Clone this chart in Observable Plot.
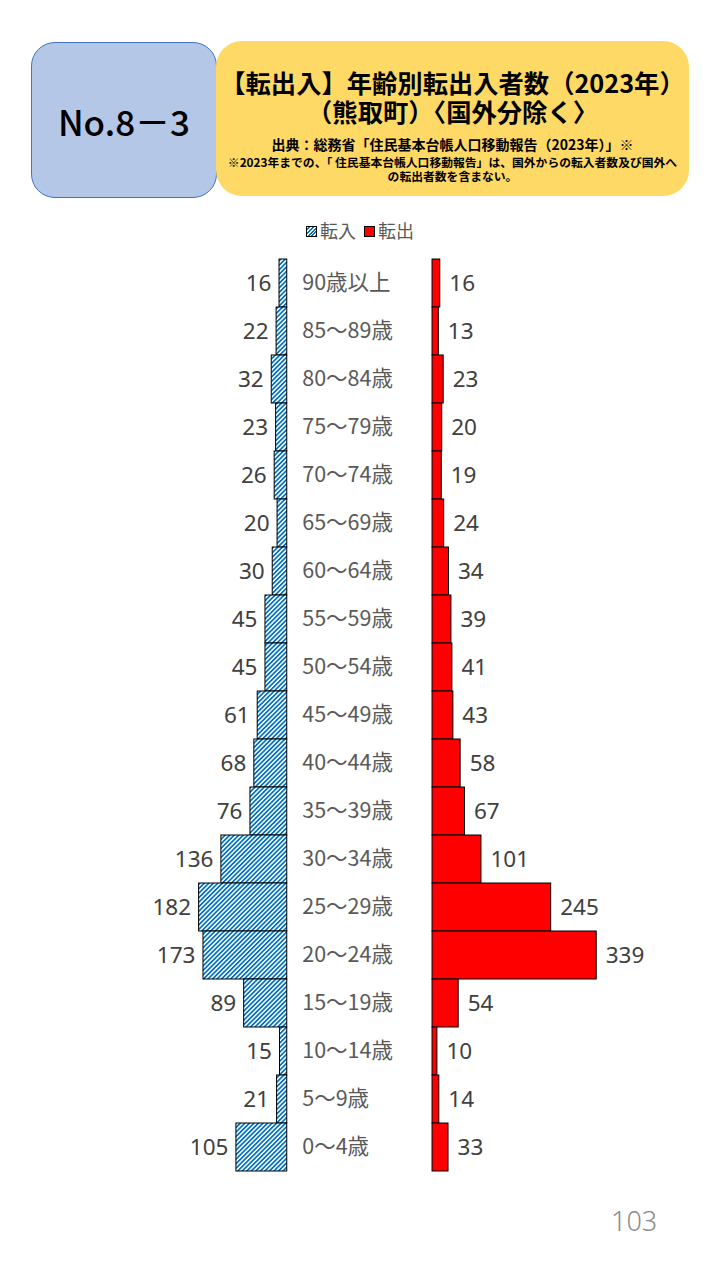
<!DOCTYPE html>
<html><head><meta charset="utf-8">
<script src="https://cdn.jsdelivr.net/npm/d3@7"></script>
<script src="https://cdn.jsdelivr.net/npm/@observablehq/plot@0.6"></script>
<style>
body{margin:0;background:#fff;font-family:"Noto Sans CJK JP","Noto Sans",sans-serif;}
#page{position:relative;width:720px;height:1280px;overflow:hidden;}
.abs{position:absolute;}
#nobox{left:31px;top:42px;width:184px;height:154px;background:#B4C7E7;border:1px solid #4472C4;border-radius:24px;display:flex;align-items:center;justify-content:center;font-size:35px;font-weight:500;color:#000;}
#ybox{left:216px;top:41px;width:473px;height:155px;background:#FFD966;border-radius:26px;}
.t{position:absolute;left:216px;width:473px;text-align:center;color:#000;white-space:pre;}
#legend{left:0;top:217px;width:720px;text-align:center;font-size:18px;line-height:26px;color:#595959;}
#legend span.sw{display:inline-block;width:9px;height:9px;border:1px solid #000;vertical-align:middle;margin:0 3px 0 0;position:relative;top:-2px;}
#chart{left:0;top:240px;}
#pnum{left:611px;top:1203px;font-size:27px;font-weight:300;line-height:36px;color:#8c8c8c;font-family:"Noto Sans","Noto Sans CJK JP",sans-serif;}
</style></head>
<body><div id="page">
<div id="nobox" class="abs">No.8－3</div>
<div id="ybox" class="abs"></div>
<div class="t" id="title" style="top:67.5px;font-size:25.3px;font-weight:700;line-height:29px;"></div>
<div class="t" style="top:135.5px;font-size:14px;font-weight:700;line-height:16px;">出典：総務省「住民基本台帳人口移動報告（2023年）」※</div>
<div class="t" id="note" style="top:154.8px;font-size:11.8px;font-weight:700;line-height:14.5px;"></div>
<div id="legend" class="abs"><span class="sw" style="background:repeating-linear-gradient(135deg,#fff 0 1.2px,#0070C0 1.2px 2.6px);"></span>転入&nbsp;&nbsp;<span class="sw" style="background:#FF0000;"></span>転出</div>
<div id="chart" class="abs"></div>
<div id="pnum" class="abs">103</div>
</div>
<script>
const ages = ["90歳以上","85～89歳","80～84歳","75～79歳","70～74歳","65～69歳","60～64歳","55～59歳","50～54歳","45～49歳","40～44歳","35～39歳","30～34歳","25～29歳","20～24歳","15～19歳","10～14歳","5～9歳","0～4歳"];
const inflow = [16,22,32,23,26,20,30,45,45,61,68,76,136,182,173,89,15,21,105];
const outflow = [16,13,23,20,19,24,34,39,41,43,58,67,101,245,339,54,10,14,33];
const G = 150; // half gap (data units) for center labels
const rows = ages.map((a,i)=>({age:a, inn:inflow[i], out:outflow[i]}));

document.getElementById("title").textContent = "【転出入】年齢別転出入者数（2023年）\n（熊取町）〈国外分除く〉";
document.getElementById("note").textContent = "※2023年までの、「 住民基本台帳人口移動報告」は、国外からの転入者数及び国外へ\nの転出者数を含まない。";

const svg = Plot.plot({
  width:720, height:950,
  marginLeft:0, marginRight:0, marginTop:18, marginBottom:19,
  x:{domain:[-742.1,744.6], axis:null},
  y:{domain:ages, padding:0, axis:null},
  marks:[
    Plot.barX(rows,{y:"age", x1:d=>-G-d.inn, x2:()=>-G, fill:"url(#hatchBlue)", stroke:"#000", strokeWidth:1, inset:0}),
    Plot.barX(rows,{y:"age", x1:()=>G, x2:d=>G+d.out, fill:"#FF0000", stroke:"#000", strokeWidth:1, inset:0}),
    Plot.text(rows,{y:"age", x:d=>-G-d.inn, text:d=>String(d.inn), textAnchor:"end", dx:-8, fontSize:22.5, fill:"#404040", fontFamily:"Noto Sans, Noto Sans CJK JP"}),
    Plot.text(rows,{y:"age", x:d=>G+d.out, text:d=>String(d.out), textAnchor:"start", dx:9, fontSize:22.5, fill:"#404040", fontFamily:"Noto Sans, Noto Sans CJK JP"}),
    Plot.text(rows,{y:"age", x:()=>-G, text:"age", textAnchor:"start", dx:15, fontSize:21.5, fill:"#595959", fontFamily:"Noto Sans CJK JP"})
  ]
});
svg.insertAdjacentHTML("afterbegin",'<defs><pattern id="hatchBlue" patternUnits="userSpaceOnUse" width="3.2" height="3.2" patternTransform="rotate(45)"><rect width="3.2" height="3.2" fill="#fff"/><rect width="1.7" height="3.2" fill="#0070C0"/></pattern></defs>');
document.getElementById("chart").appendChild(svg);
</script>
</body></html>
